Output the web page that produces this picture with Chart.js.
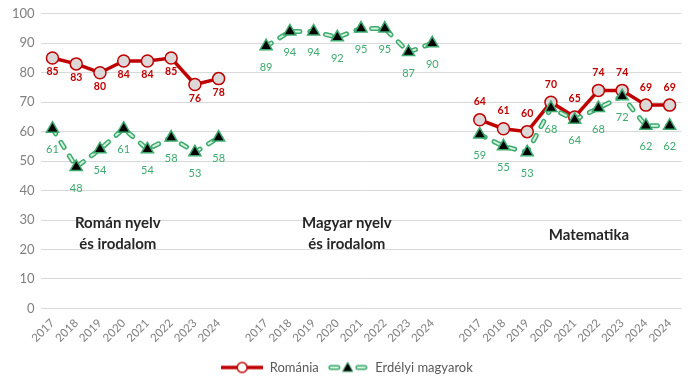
<!DOCTYPE html>
<html>
<head>
<meta charset="utf-8">
<script src="https://cdn.jsdelivr.net/npm/chart.js@4/dist/chart.umd.min.js"></script>
<style>
  html, body { margin: 0; padding: 0; background: #fff; }
  #wrap { width: 690px; height: 384px; }
</style>
</head>
<body>
<div id="wrap"><canvas id="chart"></canvas></div>
<script>
const years = ['2017', '2018', '2019', '2020', '2021', '2022', '2023', '2024'];
const years_mat = ['2017', '2018', '2019', '2020', '2021', '2022', '2023', '2024', '2024'];

// Román nyelv és irodalom
const roman_ro = [85, 83, 80, 84, 84, 85, 76, 78];
const roman_hu = [61, 48, 54, 61, 54, 58, 53, 58];
// Magyar nyelv és irodalom (csak erdélyi magyarok)
const magyar_hu = [89, 94, 94, 92, 95, 95, 87, 90];
// Matematika
const mat_ro = [64, 61, 60, 70, 65, 74, 74, 69, 69];
const mat_hu = [59, 55, 53, 68, 64, 68, 72, 62, 62];

const subject_titles = [['Román nyelv', 'és irodalom'], ['Magyar nyelv', 'és irodalom'], ['Matematika']];

const RED = '#C00000';
const GREEN = '#3DAA6E';
const FONT = 'Lato, "Open Sans", sans-serif';

const blank = n => Array(n).fill(null);

// one empty category between the subjects
const labels = [...years, '', ...years, '', ...years_mat];
const data_ro = [...roman_ro, null, ...blank(magyar_hu.length), null, ...mat_ro];
const data_hu = [...roman_hu, null, ...magyar_hu, null, ...mat_hu];
const mat_start = years.length * 2 + 2;

function legendIcon(kind) {
  const c = document.createElement('canvas');
  c.width = 42; c.height = 14;
  const ctx = c.getContext('2d');
  if (kind === 'ro') {
    ctx.strokeStyle = RED;
    ctx.lineWidth = 3.5;
    ctx.beginPath(); ctx.moveTo(0, 7); ctx.lineTo(42, 7); ctx.stroke();
    ctx.beginPath(); ctx.arc(21, 7, 5, 0, Math.PI * 2);
    ctx.fillStyle = '#fff'; ctx.fill();
    ctx.lineWidth = 1.5; ctx.stroke();
  } else {
    ctx.lineCap = 'round';
    [[4, 11], [31, 38]].forEach(([a, b]) => {
      ctx.strokeStyle = GREEN; ctx.lineWidth = 5;
      ctx.beginPath(); ctx.moveTo(a, 7); ctx.lineTo(b, 7); ctx.stroke();
      ctx.strokeStyle = '#D4F2DE'; ctx.lineWidth = 2;
      ctx.beginPath(); ctx.moveTo(a, 7); ctx.lineTo(b, 7); ctx.stroke();
    });
    ctx.beginPath(); ctx.moveTo(21, 2); ctx.lineTo(26, 11); ctx.lineTo(16, 11); ctx.closePath();
    ctx.fillStyle = '#000'; ctx.fill();
    ctx.strokeStyle = GREEN; ctx.lineWidth = 1; ctx.stroke();
  }
  return c;
}

const valueLabels = {
  id: 'valueLabels',
  afterDatasetsDraw(chart) {
    const ctx = chart.ctx;
    ctx.save();
    ctx.textAlign = 'center';
    ctx.textBaseline = 'middle';
    chart.data.datasets.forEach((ds, i) => {
      if (!ds.valueColor) return;
      const meta = chart.getDatasetMeta(i);
      ctx.fillStyle = ds.valueColor;
      ctx.font = ds.valueFont;
      meta.data.forEach((pt, j) => {
        const v = ds.data[j];
        if (v == null) return;
        const above = ds.valueAbove && ds.valueAbove(j);
        ctx.fillText(String(v), pt.x, above ? pt.y - 18 : pt.y + ds.valueOffset);
      });
    });

    // subject titles inside the plot
    const x = chart.scales.x, y = chart.scales.y;
    const spots = [[2.75, 29], [12.4, 29], [22.6, 25]];
    ctx.fillStyle = '#262626';
    ctx.font = 'bold 15px ' + FONT;
    subject_titles.forEach((lines, k) => {
      const px = x.getPixelForValue(spots[k][0]);
      const py = y.getPixelForValue(spots[k][1]);
      lines.forEach((t, n) => ctx.fillText(t, px, py + n * 21));
    });
    ctx.restore();
  }
};

const config = {
  type: 'line',
  data: {
    labels: labels,
    datasets: [{
      label: 'Románia',
      data: data_ro,
      borderColor: RED,
      borderWidth: 3.5,
      pointRadius: 6,
      pointBackgroundColor: '#DDD8D8',
      pointBorderColor: RED,
      pointBorderWidth: 1.5,
      spanGaps: false,
      order: 3,
      valueColor: RED,
      valueFont: 'bold 10.5px ' + FONT,
      valueOffset: 14,
      valueAbove: j => j >= mat_start
    }, {
      label: 'Erdélyi magyarok (outline)',
      data: data_hu,
      borderColor: GREEN,
      borderWidth: 5,
      borderDash: [6, 10],
      borderCapStyle: 'round',
      pointRadius: 0,
      spanGaps: false,
      order: 2
    }, {
      label: 'Erdélyi magyarok',
      data: data_hu,
      borderColor: '#D4F2DE',
      borderWidth: 2,
      borderDash: [6, 10],
      borderCapStyle: 'round',
      pointStyle: 'triangle',
      pointRadius: 7,
      pointBackgroundColor: '#000',
      pointBorderColor: GREEN,
      pointBorderWidth: 1.5,
      spanGaps: false,
      order: 1,
      valueColor: GREEN,
      valueFont: '11px ' + FONT,
      valueOffset: 21
    }]
  },
  options: {
    responsive: true,
    maintainAspectRatio: false,
    animation: false,
    layout: { padding: { top: 7, right: 2, left: 6, bottom: 0 } },
    plugins: {
      tooltip: { enabled: false },
      legend: {
        position: 'bottom',
        labels: {
          usePointStyle: true,
          pointStyleWidth: 42,
          color: '#595959',
          font: { family: FONT, size: 13 },
          padding: 8,
          generateLabels: () => [
            { text: 'Románia', pointStyle: legendIcon('ro'), fontColor: '#595959', datasetIndex: 0, lineWidth: 0 },
            { text: 'Erdélyi magyarok', pointStyle: legendIcon('hu'), fontColor: '#595959', datasetIndex: 2, lineWidth: 0 }
          ]
        }
      }
    },
    scales: {
      x: {
        offset: true,
        grid: { display: false, drawTicks: false },
        border: { display: false },
        ticks: {
          autoSkip: false,
          minRotation: 45,
          maxRotation: 45,
          color: '#7F7F7F',
          font: { family: FONT, size: 11.5 },
          padding: 8
        }
      },
      y: {
        min: 0,
        max: 100,
        ticks: {
          stepSize: 10,
          color: '#7F7F7F',
          font: { family: FONT, size: 13 },
          padding: 6
        },
        grid: { color: '#D9D9D9', lineWidth: 1, drawTicks: false },
        border: { display: false }
      }
    }
  },
  plugins: [valueLabels]
};

const chart = new Chart(document.getElementById('chart'), config);
</script>
</body>
</html>
